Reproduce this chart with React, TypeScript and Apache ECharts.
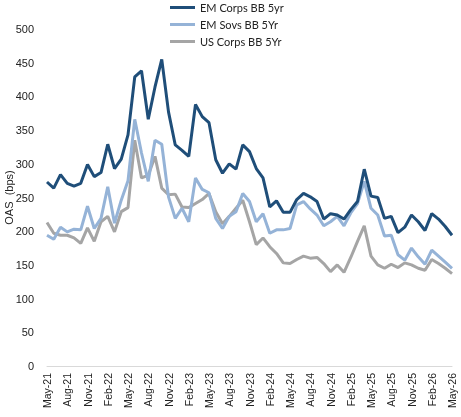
import React, { useEffect, useRef } from "react";
import * as echarts from "echarts";

const months = (() => {
  const names = ["Jan", "Feb", "Mar", "Apr", "May", "Jun", "Jul", "Aug", "Sep", "Oct", "Nov", "Dec"];
  const out: string[] = [];
  let m = 4, y = 21;
  for (let i = 0; i < 61; i++) {
    out.push(`${names[m]}-${y}`);
    m++;
    if (m === 12) { m = 0; y++; }
  }
  return out;
})();

const emCorps = [
  273, 264, 284, 271, 267, 271, 299, 281, 287, 329,
  293, 307, 343, 429, 438, 366, 414, 455, 377, 328,
  320, 311, 388, 370, 361, 306, 286, 300, 292, 328,
  318, 293, 279, 236, 245, 228, 228, 247, 256, 251,
  244, 218, 226, 224, 218, 232, 244, 292, 252, 250,
  219, 222, 198, 206, 224, 214, 201, 226, 218, 207,
  194,
];

const emSovs = [
  194, 188, 206, 199, 203, 202, 237, 204, 219, 266,
  212, 246, 275, 366, 316, 274, 335, 329, 251, 219,
  234, 214, 279, 262, 257, 219, 204, 222, 229, 256,
  244, 214, 226, 197, 202, 202, 204, 239, 244, 233,
  224, 208, 214, 222, 208, 227, 241, 274, 234, 224,
  193, 194, 165, 157, 175, 162, 151, 172, 163, 154,
  145,
];

const usCorps = [
  213, 197, 194, 194, 190, 182, 205, 185, 214, 222,
  199, 229, 235, 335, 279, 283, 311, 264, 254, 255,
  236, 235, 241, 247, 256, 229, 211, 222, 234, 246,
  214, 180, 190, 177, 167, 153, 152, 158, 163, 160,
  161, 152, 140, 150, 139, 161, 185, 208, 163, 150,
  145, 151, 146, 153, 150, 145, 142, 158, 152, 145,
  137,
];

const seriesNames = ["EM Corps BB 5yr", "EM Sovs BB 5Yr", "US Corps BB 5Yr"];
const yTicks = { min: 0, max: 500, interval: 50 };

export default function App() {
  const ref = useRef<HTMLDivElement>(null);
  useEffect(() => {
    if (!ref.current) return;
    const chart = echarts.init(ref.current, undefined, { renderer: "svg" });
    const colors = ["#1F4E79", "#95B3D7", "#A5A5A5"];
    const data = [emCorps, emSovs, usCorps];
    chart.setOption({
      animation: false,
      grid: { left: 47, right: 9, top: 29, bottom: 51, outerBoundsMode: "none", containLabel: false },
      legend: {
        orient: "vertical",
        left: 165,
        top: 0,
        padding: [2, 5, 5, 5],
        icon: "rect",
        itemWidth: 25,
        itemHeight: 3,
        itemGap: 6,
        textStyle: { fontFamily: "Lato", fontSize: 11, color: "#222" },
        data: seriesNames,
      },
      xAxis: {
        type: "category",
        data: months,
        boundaryGap: false,
        axisLine: { lineStyle: { color: "#D9D9D9", width: 1 } },
        axisTick: { show: false },
        axisLabel: {
          interval: 2,
          rotate: 90,
          margin: 7,
          fontFamily: "Liberation Sans",
          fontSize: 10.5,
          color: "#222",
        },
      },
      yAxis: {
        type: "value",
        min: yTicks.min,
        max: yTicks.max,
        interval: yTicks.interval,
        splitLine: { show: false },
        axisLine: { show: false },
        axisTick: { show: false },
        axisLabel: { fontFamily: "Liberation Sans", fontSize: 11, color: "#222", margin: 13 },
        name: "OAS  (bps)",
        nameLocation: "middle",
        nameGap: 33,
        nameMoveOverlap: false,
        nameTextStyle: { fontFamily: "Liberation Sans", fontSize: 11, color: "#222" },
      },
      series: seriesNames.map((n, i) => ({
        name: n,
        type: "line",
        data: data[i],
        symbol: "none",
        lineStyle: { color: colors[i], width: 3 },
        itemStyle: { color: colors[i] },
        z: 3 - i,
      })),
    });
    return () => chart.dispose();
  }, []);
  return (
    <div
      ref={ref}
      style={{ position: "fixed", left: 0, top: 0, width: 461, height: 417 }}
    />
  );
}
